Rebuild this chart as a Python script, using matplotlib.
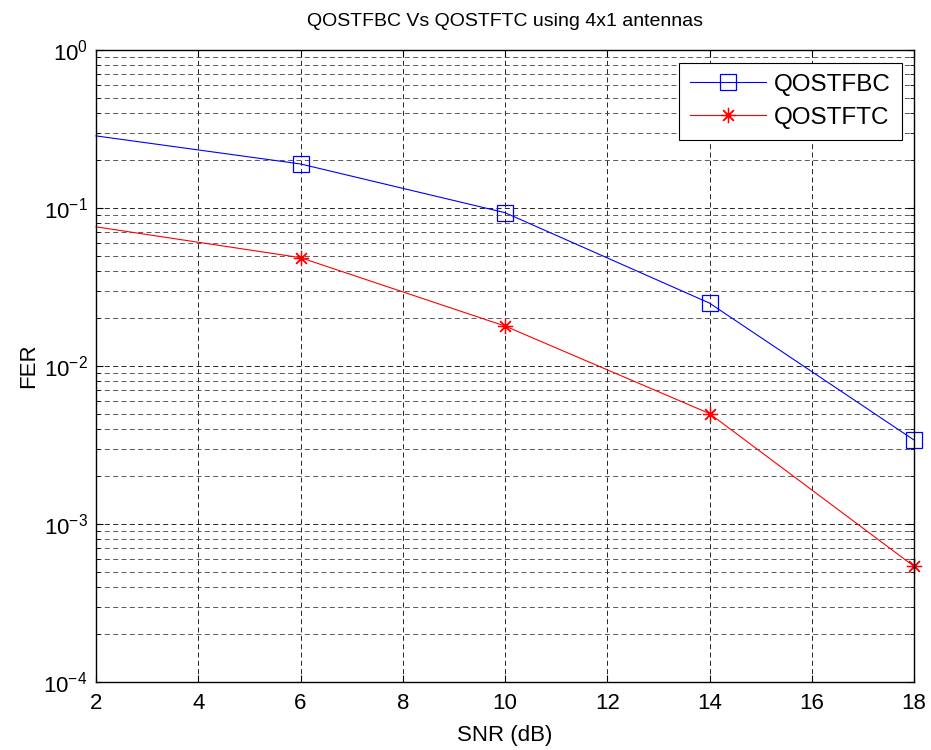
import numpy as np
import matplotlib
matplotlib.use("Agg")
import matplotlib.pyplot as plt
from matplotlib.ticker import LogLocator

plt.rcParams['font.family'] = ['Liberation Sans', 'DejaVu Sans']
plt.rcParams['mathtext.fontset'] = 'custom'
plt.rcParams['mathtext.rm'] = 'Liberation Sans'
plt.rcParams['mathtext.it'] = 'Liberation Sans'

# data
snr = [2, 6, 10, 14, 18]
fer_qostfbc = [0.286, 0.190, 0.0934, 0.0250, 0.0034]
fer_qostftc = [0.076, 0.0485, 0.0179, 0.0050, 0.00054]

fig = plt.figure(figsize=(9.31, 7.5), dpi=100)
ax = fig.add_axes([96 / 931, 1 - 682 / 750, (914 - 96) / 931, (682 - 50) / 750])

# no marker on the first point, as in the original figure
ax.semilogy(snr, fer_qostfbc, color='blue', lw=0.8, marker='s', ms=11,
            mfc='none', mec='blue', mew=0.9, markevery=[1, 2, 3, 4],
            label='QOSTFBC', clip_on=False)
ax.semilogy(snr, fer_qostftc, color='red', lw=0.8, marker=(8, 2, 0), ms=11,
            mec='red', mew=0.9, markevery=[1, 2, 3, 4],
            label='QOSTFTC', clip_on=False)

ax.set_xlim(2, 18)
ax.set_ylim(1e-4, 1)
ax.set_xticks(range(2, 19, 2))
ax.yaxis.set_major_locator(LogLocator(base=10, numticks=10))
ax.yaxis.set_minor_locator(LogLocator(base=10, subs=np.arange(2, 10), numticks=10))

ax.grid(True, which='major', color='black', ls=(0, (6, 4)), lw=0.6)
ax.grid(True, which='minor', axis='y', color='0.25', ls=(0, (6, 4)), lw=0.6)
ax.tick_params(which='both', direction='in', top=True, right=True, labelsize=16)
ax.tick_params(which='major', length=5)
ax.tick_params(which='minor', length=3)
ax.tick_params(axis='x', pad=8)
ax.tick_params(axis='y', pad=6)
for s in ax.spines.values():
    s.set_linewidth(1.0)

ax.set_title('QOSTFBC Vs QOSTFTC using 4x1 antennas', fontsize=14, pad=17)
ax.set_xlabel('SNR (dB)', fontsize=16, labelpad=8)
ax.set_ylabel('FER', fontsize=16, labelpad=3)

leg = ax.legend(loc='upper right', bbox_to_anchor=(902 / 931, 1 - 63 / 750),
                bbox_transform=fig.transFigure, borderaxespad=0,
                fontsize=17.5, fancybox=False, framealpha=1, edgecolor='black',
                handlelength=3.1, handletextpad=0.35, labelspacing=0.45,
                borderpad=0.45)
leg.get_frame().set_linewidth(0.8)

fig.savefig('out.png', dpi=100)
